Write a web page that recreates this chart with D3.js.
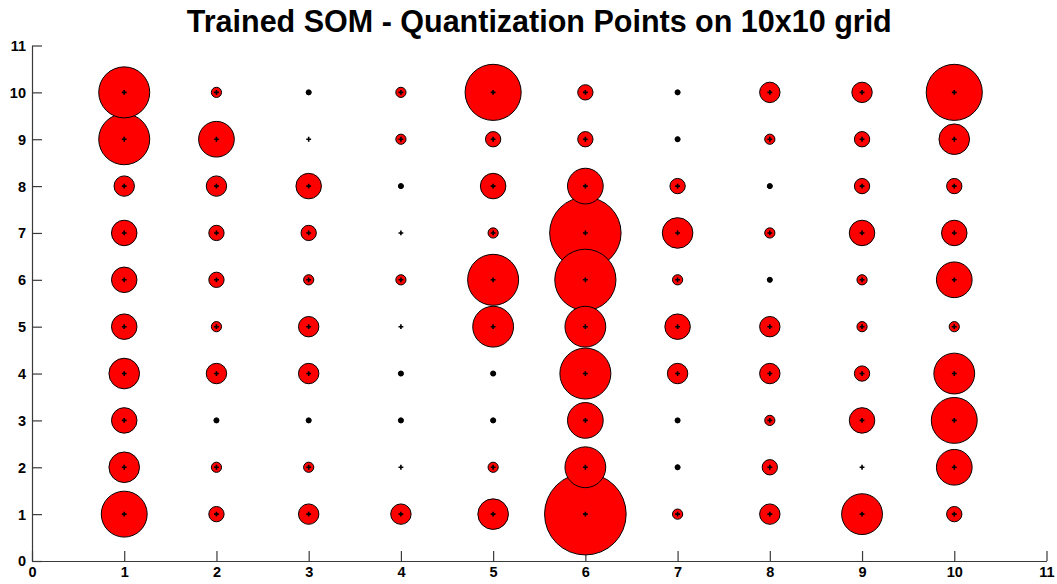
<!DOCTYPE html>
<html>
<head>
<meta charset="utf-8">
<script src="https://cdn.jsdelivr.net/npm/d3@7"></script>
<style>
  html, body { margin: 0; padding: 0; background: #fff; }
  svg { display: block; font-family: "Liberation Sans", Arial, Helvetica, sans-serif; }
</style>
</head>
<body>
<svg id="chart" width="1057" height="584"></svg>
<script>
// Hit counts per SOM node, one array per grid column, listed from row 1 up to row 10.
// 0 = node with no hits (small black disc), null = unused node (centre mark only).
const gridRows = [1, 2, 3, 4, 5, 6, 7, 8, 9, 10];
const gridCols = [1, 2, 3, 4, 5, 6, 7, 8, 9, 10];
const hitsCol1  = [8, 5, 4, 5, 4, 4, 4, 3, 9, 9];
const hitsCol2  = [2, 1, 0, 3, 1, 2, 2, 3, 6, 1];
const hitsCol3  = [3, 1, 0, 3, 3, 1, 2, 4, null, 0];
const hitsCol4  = [3, null, 0, 0, null, 1, null, 0, 1, 1];
const hitsCol5  = [5, 1, 0, 0, 7, 9, 1, 4, 2, 10];
const hitsCol6  = [15, 7, 6, 9, 7, 11, 13, 6, 2, 2];
const hitsCol7  = [1, 0, 0, 3, 4, 1, 5, 2, 0, 0];
const hitsCol8  = [3, 2, 1, 3, 3, 0, 1, 0, 1, 3];
const hitsCol9  = [7, null, 4, 2, 1, 1, 4, 2, 2, 3];
const hitsCol10 = [2, 6, 8, 7, 1, 6, 4, 2, 5, 10];
const hitsByCol = [hitsCol1, hitsCol2, hitsCol3, hitsCol4, hitsCol5,
                   hitsCol6, hitsCol7, hitsCol8, hitsCol9, hitsCol10];

const xTicks = [0, 1, 2, 3, 4, 5, 6, 7, 8, 9, 10, 11];
const yTicks = [0, 1, 2, 3, 4, 5, 6, 7, 8, 9, 10, 11];
const titleText = "Trained SOM - Quantization Points on 10x10 grid";

// Flatten into node records
const nodes = [];
gridCols.forEach((c, i) => {
  gridRows.forEach((r, j) => {
    nodes.push({ col: c, row: r, hits: hitsByCol[i][j] });
  });
});

const svg = d3.select("#chart");
const plot = { left: 32, right: 1046.5, top: 45.5, bottom: 561 };

const x = d3.scaleLinear().domain([0, 11]).range([plot.left, plot.right]);
const y = d3.scaleLinear().domain([0, 11]).range([plot.bottom, plot.top]);
// Marker diameter grows linearly with hit count
const diam = d3.scaleLinear().domain([0, 15]).range([5.1, 81.6]);

const axisColor = "#3a3a3a";

// Title
svg.append("text")
  .attr("x", (plot.left + plot.right) / 2)
  .attr("y", 32)
  .attr("text-anchor", "middle")
  .attr("font-size", 30.5)
  .attr("font-weight", "bold")
  .attr("fill", "#000")
  .text(titleText);

// Axes with inward ticks
const xAxis = d3.axisBottom(x).tickValues(xTicks).tickFormat(d3.format("d"))
  .tickSizeInner(-10).tickSizeOuter(0).tickPadding(6);
const yAxis = d3.axisLeft(y).tickValues(yTicks).tickFormat(d3.format("d"))
  .tickSizeInner(-10).tickSizeOuter(0).tickPadding(6);

const gx = svg.append("g").attr("transform", `translate(0,${plot.bottom})`).call(xAxis);
const gy = svg.append("g").attr("transform", `translate(${plot.left},0)`).call(yAxis);

[gx, gy].forEach(g => {
  g.attr("font-size", 14.5).attr("font-weight", "bold")
   .attr("font-family", "\"Liberation Sans\", Arial, sans-serif");
  g.select(".domain").attr("stroke", axisColor).attr("stroke-width", 1.2);
  g.selectAll(".tick line").attr("stroke", axisColor).attr("stroke-width", 1.2);
  g.selectAll(".tick text").attr("fill", "#000");
});
gx.selectAll(".tick text").attr("dy", "0.71em");
gy.selectAll(".tick text").attr("dy", "0.34em");

// Hit circles, larger ones drawn first so smaller ones stay visible
const drawn = nodes.filter(d => d.hits !== null)
  .sort((a, b) => b.hits - a.hits);

svg.append("g").selectAll("circle")
  .data(drawn)
  .join("circle")
  .attr("cx", d => x(d.col))
  .attr("cy", d => y(d.row))
  .attr("r", d => diam(d.hits) / 2)
  .attr("fill", d => d.hits === 0 ? "#000" : "#ff0000")
  .attr("stroke", "#000")
  .attr("stroke-width", 1);

// Centre marks on every node
const cross = d3.symbol().type(d3.symbolCross).size(13);
svg.append("g").selectAll("path")
  .data(nodes)
  .join("path")
  .attr("transform", d => `translate(${x(d.col)},${y(d.row)})`)
  .attr("d", cross)
  .attr("fill", "#000");
</script>
</body>
</html>
